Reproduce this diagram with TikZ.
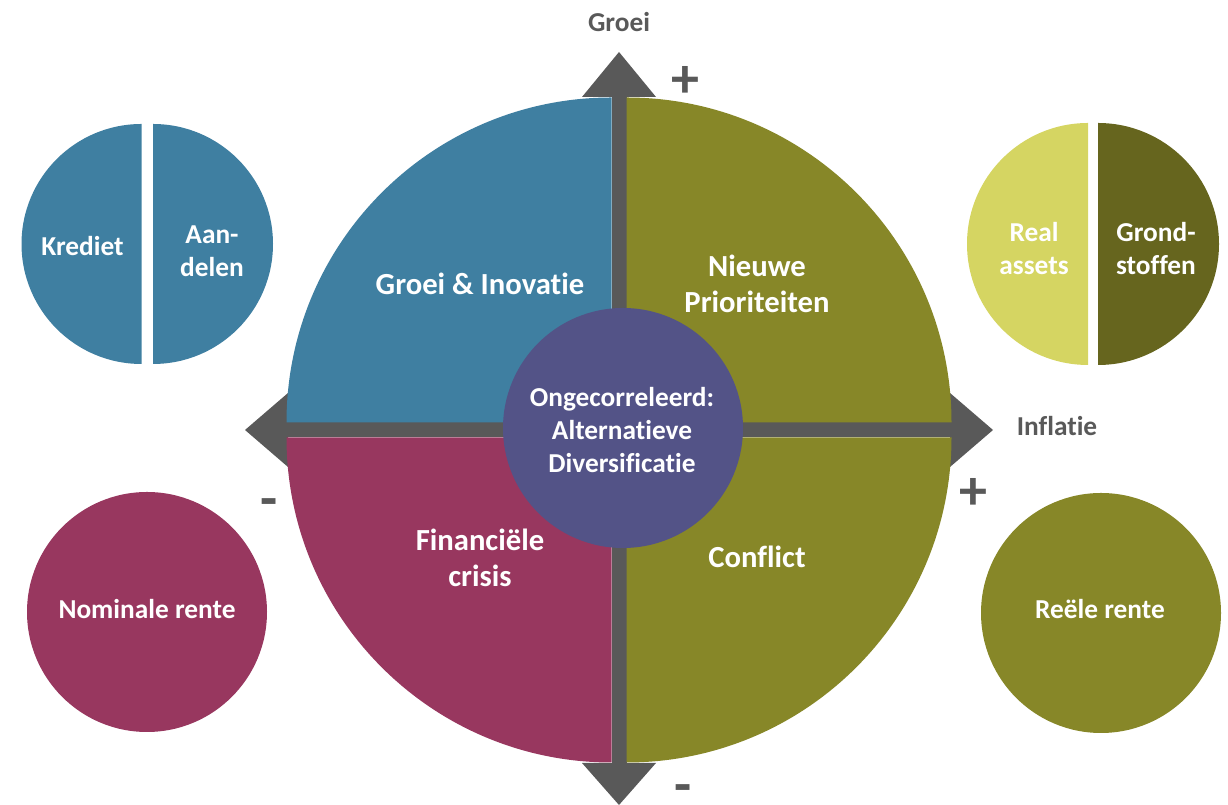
\documentclass[tikz,border=0pt]{standalone}
\usepackage{fontspec}
\setmainfont{Carlito}[Ligatures=NoCommon]
\usetikzlibrary{positioning}
\definecolor{qblue}{HTML}{3F7FA1}
\definecolor{qolive}{HTML}{878728}
\definecolor{qred}{HTML}{98375F}
\definecolor{qpurple}{HTML}{535387}
\definecolor{qgray}{HTML}{595959}
\definecolor{qlight}{HTML}{D5D562}
\definecolor{qdark}{HTML}{66651E}
\begin{document}
\begin{tikzpicture}[x=0.75pt,y=0.75pt,
    txt/.style={text=white,font=\bfseries\fontsize{20.5}{25}\selectfont,align=center,inner sep=0pt},
    qtxt/.style={text=white,font=\bfseries\fontsize{23}{27}\selectfont,align=center,inner sep=0pt},
    axlbl/.style={text=qgray,font=\bfseries\fontsize{20.5}{25}\selectfont,inner sep=0pt},
    sign/.style={text=qgray,font=\bfseries\fontsize{42}{42}\selectfont,inner sep=0pt}]
  \useasboundingbox (0,0) rectangle (1228,805);

  % axes with arrow heads
  \coordinate (c) at (619,375);
  \fill[qgray] (611.5,42) rectangle (626.5,708);
  \fill[qgray] (288,367.5) rectangle (950,382.5);
  \fill[qgray] (582,708) -- (619,753) -- (656,708) -- cycle;
  \fill[qgray] (582,42) -- (619,0) -- (656,42) -- cycle;
  \fill[qgray] (288,412) -- (245,375) -- (288,338) -- cycle;
  \fill[qgray] (950,412) -- (993,375) -- (950,338) -- cycle;

  % quadrants
  \fill[qblue] (611.5,382.5) -- ++(-325,0) arc[start angle=180,end angle=90,radius=325] -- cycle;
  \fill[qolive] (626.5,382.5) -- ++(0,325) arc[start angle=90,end angle=0,radius=325] -- cycle;
  \fill[qred] (611.5,367.5) -- ++(-325,0) arc[start angle=180,end angle=270,radius=325] -- cycle;
  \fill[qolive] (626.5,367.5) -- ++(0,-325) arc[start angle=270,end angle=360,radius=325] -- cycle;
  \fill[qpurple] (623,377) circle[radius=120];

  % side circles
  \fill[qblue] (141.5,681) arc[start angle=90,end angle=270,radius=120] -- cycle;
  \fill[qblue] (153,441) arc[start angle=-90,end angle=90,radius=120] -- cycle;
  \fill[qlight] (1088,682) arc[start angle=90,end angle=270,radius=121] -- cycle;
  \fill[qdark] (1098,440) arc[start angle=-90,end angle=90,radius=121] -- cycle;
  \fill[qred] (147,193) circle[radius=120];
  \fill[qolive] (1101,192) circle[radius=120];

  % labels
  \node[axlbl] (groei) at (619,782.5) {Groei};
  \node[axlbl] (inflatie) at (1057,379) {Inflatie};
  \node[sign] (gplus) at (685,723) {+};
  \node[sign] (iplus) at (973,311) {+};
  \node[sign] (imin) at (269,297) {-};
  \node[sign] (gmin) at (683,11) {-};

  \node[qtxt] (innov) at (480,521) {Groei \& Inovatie};
  \node[qtxt] (prio) at (757,521) {Nieuwe\\Prioriteiten};
  \node[qtxt] (crisis) at (480,247) {Financiële\\crisis};
  \node[qtxt] (conflict) at (757,248) {Conflict};
  \node[txt] (divers) at (622,375) {Ongecorreleerd:\\Alternatieve\\Diversificatie};

  \node[txt] (krediet) at (82.5,559) {Krediet};
  \node[txt] (aandelen) at (212,554) {Aan-\\delen};
  \node[txt] (real) at (1034,556.5) {Real\\assets};
  \node[txt] (grond) at (1156,556.5) {Grond-\\stoffen};
  \node[txt] (nominaal) at (147,196) {Nominale rente};
  \node[txt] (reeel) at (1100,196) {Reële rente};
\end{tikzpicture}
\end{document}
